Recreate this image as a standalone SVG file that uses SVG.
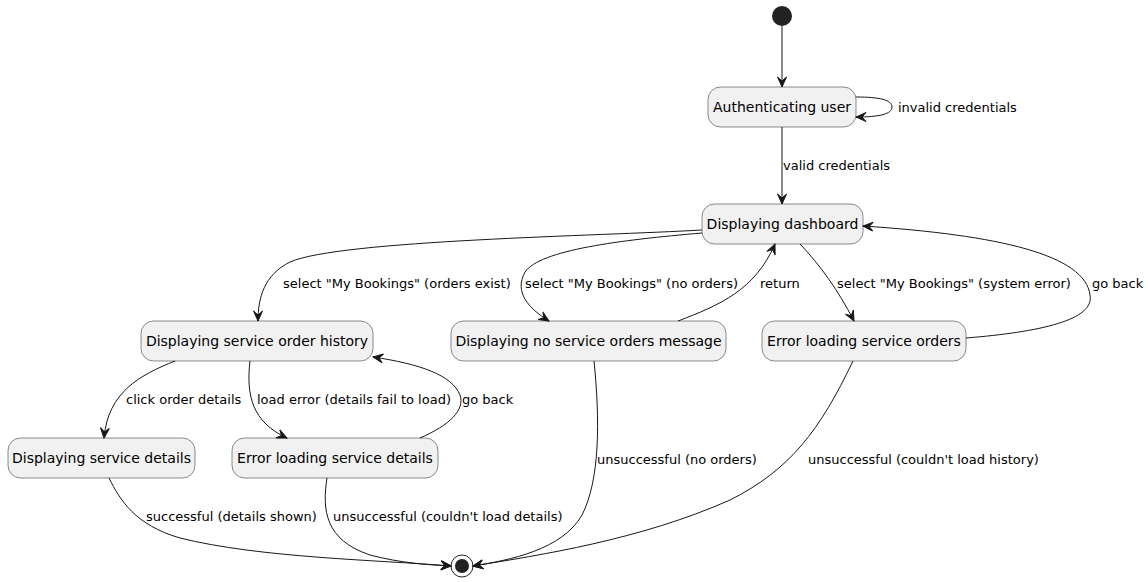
<svg xmlns="http://www.w3.org/2000/svg" width="1148" height="582" viewBox="0 0 1148 582">
<style>
.node rect{fill:#F1F1F1;stroke:#181818;stroke-width:0.5}
.node text{font-family:"DejaVu Sans",sans-serif;font-size:14px;fill:#000;text-anchor:middle}
.edges path{fill:none;stroke:#181818;stroke-width:1}
.lbl{font-family:"DejaVu Sans",sans-serif;font-size:13px;fill:#000}
</style>
<defs>
<marker id="ah" markerUnits="userSpaceOnUse" markerWidth="14" markerHeight="12" refX="11" refY="5.5" orient="auto">
<path d="M1,1 L11,5.5 L1,10 L5,5.5 Z" fill="#181818" stroke="#181818" stroke-width="1"/>
</marker>
</defs>
<rect width="1148" height="582" fill="#FFFFFF"/>
<g id="start"><circle cx="782" cy="16" r="10" fill="#222222"/></g>
<g id="auth" class="node"><rect x="708" y="87" width="148" height="40" rx="12.5"/><text x="782" y="112">Authenticating user</text></g>
<g id="dashboard" class="node"><rect x="702" y="204" width="161" height="40" rx="12.5"/><text x="782.5" y="229">Displaying dashboard</text></g>
<g id="history" class="node"><rect x="141" y="321" width="232" height="40" rx="12.5"/><text x="257" y="346">Displaying service order history</text></g>
<g id="noorders" class="node"><rect x="451" y="321" width="275" height="40" rx="12.5"/><text x="588.5" y="346">Displaying no service orders message</text></g>
<g id="errorders" class="node"><rect x="762" y="321" width="204" height="40" rx="12.5"/><text x="864" y="346">Error loading service orders</text></g>
<g id="details" class="node"><rect x="8" y="438" width="187" height="40" rx="12.5"/><text x="101.5" y="463">Displaying service details</text></g>
<g id="errdetails" class="node"><rect x="232" y="438" width="206" height="40" rx="12.5"/><text x="335" y="463">Error loading service details</text></g>
<g id="end"><circle cx="462" cy="566" r="11" fill="none" stroke="#222222" stroke-width="1"/><circle cx="462" cy="566" r="7" fill="#222222"/></g>
<g class="edges">
<path marker-end="url(#ah)" d="M782,26 L782,87"/>
<path marker-end="url(#ah)" d="M856,97 C880,97 892,100 892,107 C892,114 880,117 856,117"/>
<path marker-end="url(#ah)" d="M782,127 L782,204"/>
<path marker-end="url(#ah)" d="M702,230 C600,236 340,240 290,262 C264,275 258,298 258,321"/>
<path marker-end="url(#ah)" d="M702,233 C620,240 540,250 525,272 C514,292 528,308 549,321"/>
<path marker-end="url(#ah)" d="M678,321 C720,305 755,290 775,244"/>
<path marker-end="url(#ah)" d="M800,244 C820,265 838,290 854,321"/>
<path marker-end="url(#ah)" d="M966,338 C1040,332 1095,320 1090,295 C1085,255 1000,235 863,226"/>
<path marker-end="url(#ah)" d="M175,361 C140,375 108,392 104,438"/>
<path marker-end="url(#ah)" d="M250,361 C246,395 252,422 287,438"/>
<path marker-end="url(#ah)" d="M420,438 C450,425 465,410 460,395 C452,375 420,364 373,357"/>
<path marker-end="url(#ah)" d="M109,478 C120,500 135,525 180,538 C260,558 380,560 451,566"/>
<path marker-end="url(#ah)" d="M327,478 C322,510 325,540 370,555 C400,563 430,565 451,566"/>
<path marker-end="url(#ah)" d="M594,361 C600,420 600,480 582,515 C562,550 510,560 473,566"/>
<path marker-end="url(#ah)" d="M853,361 C820,430 790,470 730,500 C640,540 540,555 473,566"/>
</g>
<g id="labels">
<text class="lbl" x="898" y="112">invalid credentials</text>
<text class="lbl" x="783" y="170">valid credentials</text>
<text class="lbl" x="283" y="288">select "My Bookings" (orders exist)</text>
<text class="lbl" x="525" y="288">select "My Bookings" (no orders)</text>
<text class="lbl" x="760" y="288">return</text>
<text class="lbl" x="837" y="288">select "My Bookings" (system error)</text>
<text class="lbl" x="1092" y="288">go back</text>
<text class="lbl" x="126" y="404">click order details</text>
<text class="lbl" x="257" y="404">load error (details fail to load)</text>
<text class="lbl" x="462" y="404">go back</text>
<text class="lbl" x="597" y="464">unsuccessful (no orders)</text>
<text class="lbl" x="808" y="464">unsuccessful (couldn't load history)</text>
<text class="lbl" x="146" y="521">successful (details shown)</text>
<text class="lbl" x="333" y="521">unsuccessful (couldn't load details)</text>
</g>
</svg>
